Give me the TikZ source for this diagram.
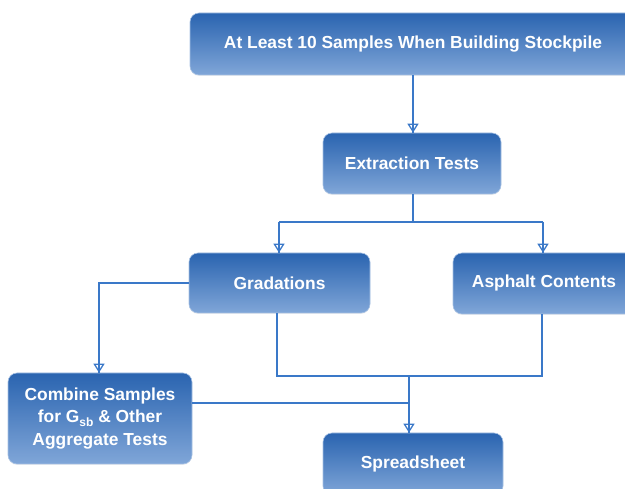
\documentclass[tikz,border=0pt]{standalone}
\usepackage{fontspec}
\setmainfont{Liberation Sans}
\usetikzlibrary{arrows.meta,shadows,calc}
\definecolor{boxtop}{RGB}{42,100,176}
\definecolor{boxbot}{RGB}{128,166,216}
\definecolor{linecol}{RGB}{58,120,200}
\tikzset{
  box/.style={rectangle, rounded corners=9pt, top color=boxtop, bottom color=boxbot,
    draw=boxbot!70!white, line width=0.6pt, text=white,
    font=\bfseries\fontsize{17.4}{22.5}\selectfont, align=center, inner sep=0pt,
    drop shadow={shadow xshift=0pt, shadow yshift=-1pt, opacity=0.12, fill=gray}},
  conn/.style={draw=linecol, line width=1.5pt},
  arr/.style={conn, -{Triangle[open, length=9pt, width=11pt, line width=1.3pt]},
    postaction={draw=linecol, line width=1.5pt, -}},
}
\begin{document}
\begin{tikzpicture}[x=1pt,y=-1pt]
\useasboundingbox (0,0) rectangle (625,489);
\node[box, minimum width=446pt, minimum height=62pt] (top) at (413,44) {At Least 10 Samples When Building Stockpile};
\node[box, minimum width=178pt, minimum height=61pt] (extr) at (412,163.5) {Extraction Tests};
\node[box, minimum width=181pt, minimum height=60pt] (grad) at (279.5,283) {Gradations};
\node[box, minimum width=182pt, minimum height=61pt] (asph) at (544,283.5) {Asphalt Contents};
\node[box, minimum width=184pt, minimum height=91pt] (comb) at (100,418.5) {\raisebox{0pt}[0pt][0pt]{}Combine Samples\\for G{\fontsize{12}{12}\selectfont\raisebox{-3.5pt}{sb}} \&{} Other\\Aggregate Tests};
\node[box, minimum width=180pt, minimum height=62pt] (spread) at (413,464) {Spreadsheet};

\coordinate (split) at (413,222);
\coordinate (gl) at (279,222);
\coordinate (ar) at (543,222);
\coordinate (gb) at (277,376);
\coordinate (ab) at (542,376);
\coordinate (mid) at (409,376);
\coordinate (cj) at (409,403);

\draw[arr] (top.south) -- (top.south |- extr.north);
\draw[conn] (extr.south -| split) -- (split);
\draw[conn] (gl) -- (ar);
\draw[arr] (gl) -- (gl |- grad.north);
\draw[arr] (ar) -- (ar |- asph.north);
\draw[conn] (gb |- grad.south) -- (gb) -- (ab) -- (ab |- asph.south);
\draw[arr] (grad.west) -| (comb.north -| 99,0);
\draw[conn] (comb.east |- cj) -- (cj);
\draw[arr] (mid) -- (mid |- spread.north);
\end{tikzpicture}
\end{document}
